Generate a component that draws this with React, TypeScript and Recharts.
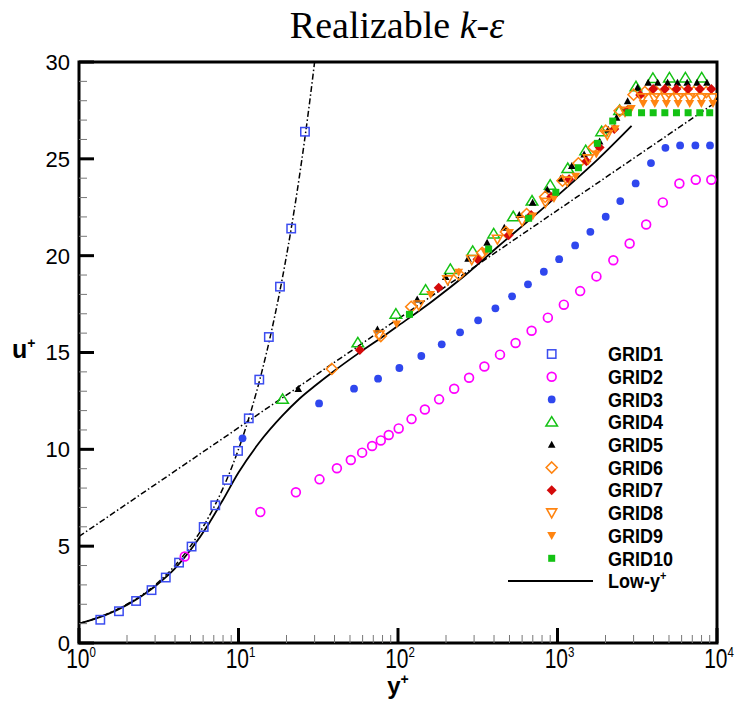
import React from 'react';
import { ComposedChart, XAxis, YAxis, Scatter, Line, ReferenceArea } from 'recharts';

// ---------- data ----------
const GRID1_X = [1.36, 1.78, 2.28, 2.85, 3.5, 4.24, 5.08, 6.05, 7.15, 8.49, 9.93, 11.6, 13.5, 15.5, 18.2, 21.4, 26.1];
const GRID1_U = [1.2, 1.64, 2.17, 2.73, 3.38, 4.15, 4.98, 5.99, 7.11, 8.42, 9.92, 11.6, 13.6, 15.8, 18.4, 21.4, 26.4];

const GRID2_X = [4.6, 13.7, 22.9, 32.2, 41.4, 50.6, 59.6, 68.8, 78, 87.5, 101, 121.6, 147.4, 181, 225, 279, 348, 436, 546, 688, 870, 1096, 1387, 1754, 2239, 2833, 3597, 4575, 5810, 7360, 9210];
const GRID2_U = [4.47, 6.76, 7.78, 8.45, 9.02, 9.45, 9.83, 10.17, 10.46, 10.74, 11.08, 11.56, 12.06, 12.58, 13.13, 13.7, 14.28, 14.89, 15.49, 16.12, 16.8, 17.47, 18.17, 18.93, 19.76, 20.63, 21.61, 22.75, 23.73, 23.92, 23.92];

const GRID3_X = [10.6, 32, 53, 75, 102, 140, 188, 245, 318, 408, 519, 653, 821, 1024, 1290, 1607, 2006, 2475, 3090, 3855, 4750, 5870, 7320, 9040];
const GRID3_U = [10.57, 12.37, 13.13, 13.65, 14.2, 14.82, 15.42, 16.04, 16.66, 17.28, 17.9, 18.52, 19.17, 19.82, 20.53, 21.23, 22.01, 22.82, 23.73, 24.78, 25.57, 25.69, 25.69, 25.69];

const GRID4_X = [18.9, 56, 97, 149, 213, 294, 398, 528, 692, 900, 1159, 1503, 1892, 2452, 3103, 3964, 5033, 6337, 8020];
const GRID4_U = [12.58, 15.5, 16.98, 18.22, 19.29, 20.22, 21.12, 22.01, 22.82, 23.64, 24.5, 25.42, 26.4, 27.5, 28.72, 29.15, 29.18, 29.18, 29.18];

const GRID5_X = [23.7, 74.3, 132, 199, 275, 362, 464, 576, 698, 863, 1048, 1230, 1469, 1837, 2080, 2346, 2752, 3176, 3700, 4250, 4900, 5650, 6500, 7500, 8650];
const GRID5_U = [13.11, 16.19, 17.74, 18.9, 19.84, 20.67, 21.44, 22.1, 22.73, 23.4, 23.97, 24.63, 25.23, 25.9, 26.5, 27.12, 27.97, 28.67, 28.93, 28.93, 28.93, 28.93, 28.93, 28.93, 28.93];

const GRID6_X = [38.5, 78, 121, 241, 337, 475, 640, 837, 1075, 1352, 1679, 2006, 2452, 3000, 3530, 4170, 4990, 5980, 7150, 8570];
const GRID6_U = [14.15, 15.85, 17.36, 19.03, 20.15, 21.22, 22.15, 23.04, 23.87, 24.77, 25.59, 26.45, 27.48, 28.31, 28.45, 28.45, 28.45, 28.45, 28.45, 28.45];

const GRID7_X = [57.6, 180, 315, 494, 684, 913, 1183, 1518, 1837, 2271, 2752, 3300, 3980, 4710, 5570, 6590, 7800, 9210];
const GRID7_U = [15.13, 18.34, 19.82, 21.06, 22.1, 23.04, 23.95, 24.88, 25.59, 26.54, 27.52, 28.3, 28.6, 28.6, 28.6, 28.6, 28.6, 28.6];

const GRID8_X = [76, 135, 205, 290, 420, 600, 840, 1150, 1560, 2050, 2650, 3400, 4050, 4800, 5700, 6750, 8000, 9400];
const GRID8_U = [15.9, 17.45, 18.75, 19.8, 20.85, 21.8, 22.75, 23.85, 25.0, 26.25, 27.45, 28.15, 28.15, 28.15, 28.15, 28.15, 28.15, 28.15];

const GRID9_X = [98, 160, 240, 350, 500, 700, 950, 1300, 1750, 2300, 2900, 3445, 4075, 4820, 5700, 6745, 7980, 9440];
const GRID9_U = [16.47, 18.0, 19.15, 20.2, 21.2, 22.05, 22.95, 24.1, 25.25, 26.55, 27.6, 27.86, 27.86, 27.86, 27.86, 27.86, 27.86, 27.86];

const GRID10_X = [118, 370, 659, 976, 1352, 1778, 2219, 2780, 3365, 3980, 4710, 5570, 6590, 7800, 9000];
const GRID10_U = [16.97, 20.34, 21.93, 23.27, 24.54, 25.8, 26.95, 27.38, 27.38, 27.38, 27.38, 27.38, 27.38, 27.38, 27.38];

const LOWY_X = [1, 1.5, 2, 3, 4, 5, 6.5, 8, 10, 13.5, 18.9, 24, 30.6, 38.8, 57, 84, 101, 164, 265, 428, 691, 1117, 1803, 2913];
const LOWY_U = [1.0, 1.48, 1.97, 2.93, 3.85, 4.8, 6.15, 7.4, 8.8, 10.35, 11.75, 12.6, 13.32, 13.98, 14.98, 15.93, 16.4, 17.65, 19.0, 20.5, 21.95, 23.45, 25.0, 26.7];

// viscous sublayer reference line u+ = y+
const VISC_X = [1, 1.5, 2, 3, 4, 5, 6, 7, 8, 9, 10, 12, 14, 16, 18, 20, 22, 24, 26, 28, 30];
const VISC_U = [1, 1.5, 2, 3, 4, 5, 6, 7, 8, 9, 10, 12, 14, 16, 18, 20, 22, 24, 26, 28, 30];

// log-law reference line
const LOG_X = [1, 10000];
const LOG_U = [5.5, 27.96];

const X_MAJOR = [1, 10, 100, 1000, 10000];
const X_EXP_LABELS = ['0', '1', '2', '3', '4'];
const X_MINOR_MULT = [2, 3, 4, 5, 6, 7, 8, 9];
const Y_MAJOR = [0, 5, 10, 15, 20, 25, 30];
const Y_ALL = [0, 1, 2, 3, 4, 5, 6, 7, 8, 9, 10, 11, 12, 13, 14, 15, 16, 17, 18, 19, 20, 21, 22, 23, 24, 25, 26, 27, 28, 29, 30];

const LEGEND_NAMES = ['GRID1', 'GRID2', 'GRID3', 'GRID4', 'GRID5', 'GRID6', 'GRID7', 'GRID8', 'GRID9', 'GRID10'];

// ---------- layout ----------
const W = 736;
const H = 701;
const PL = 79, PT = 62, PR = 717, PB = 643;
const SANS = 'Liberation Sans, Arial, sans-serif';
const SERIF = 'Liberation Serif, Times New Roman, serif';

const zip = (xs: number[], us: number[]) => xs.map((x, i) => ({ x, u: us[i] }));

const X_TICKS: number[] = [];
X_MAJOR.forEach((m, i) => {
  X_TICKS.push(m);
  if (i < X_MAJOR.length - 1) X_MINOR_MULT.forEach((k) => X_TICKS.push(m * k));
});

const BLUE_SQ = '#3b4cf0';
const MAGENTA = '#ff00ff';
const BLUE_DOT = '#2f47ee';
const GREEN = '#14c214';
const ORANGE = '#ff8410';
const RED = '#d40a0a';

type Kind = 'sq' | 'circ' | 'dot' | 'tri' | 'tris' | 'dia' | 'diaf' | 'itri' | 'itrif' | 'sqf';

function Marker({ kind, cx, cy, color }: { kind: Kind; cx: number; cy: number; color: string }) {
  if (cx == null || cy == null || isNaN(cx) || isNaN(cy)) return <g />;
  switch (kind) {
    case 'sq':
      return <rect x={cx - 4.2} y={cy - 4.2} width={8.4} height={8.4} fill="none" stroke={color} strokeWidth={1.5} />;
    case 'circ':
      return <circle cx={cx} cy={cy} r={4.4} fill="none" stroke={color} strokeWidth={1.7} />;
    case 'dot':
      return <circle cx={cx} cy={cy} r={3.9} fill={color} stroke="none" />;
    case 'tri':
      return <polygon points={`${cx},${cy - 5.5} ${cx - 5.8},${cy + 4} ${cx + 5.8},${cy + 4}`} fill="none" stroke={color} strokeWidth={1.5} />;
    case 'tris':
      return <polygon points={`${cx},${cy - 4} ${cx - 3.8},${cy + 3} ${cx + 3.8},${cy + 3}`} fill={color} stroke="none" />;
    case 'dia':
      return <polygon points={`${cx},${cy - 5.5} ${cx + 5.5},${cy} ${cx},${cy + 5.5} ${cx - 5.5},${cy}`} fill="none" stroke={color} strokeWidth={1.6} />;
    case 'diaf':
      return <polygon points={`${cx},${cy - 5} ${cx + 5},${cy} ${cx},${cy + 5} ${cx - 5},${cy}`} fill={color} stroke="none" />;
    case 'itri':
      return <polygon points={`${cx - 5},${cy - 4} ${cx + 5},${cy - 4} ${cx},${cy + 5}`} fill="none" stroke={color} strokeWidth={1.6} />;
    case 'itrif':
      return <polygon points={`${cx - 4.5},${cy - 3.5} ${cx + 4.5},${cy - 3.5} ${cx},${cy + 4.5}`} fill={color} stroke="none" />;
    case 'sqf':
      return <rect x={cx - 3.5} y={cy - 3.5} width={7} height={7} fill={color} stroke="none" />;
  }
  return <g />;
}

const SERIES: { name: string; xs: number[]; us: number[]; kind: Kind; color: string }[] = [
  { name: LEGEND_NAMES[0], xs: GRID1_X, us: GRID1_U, kind: 'sq', color: BLUE_SQ },
  { name: LEGEND_NAMES[1], xs: GRID2_X, us: GRID2_U, kind: 'circ', color: MAGENTA },
  { name: LEGEND_NAMES[2], xs: GRID3_X, us: GRID3_U, kind: 'dot', color: BLUE_DOT },
  { name: LEGEND_NAMES[3], xs: GRID4_X, us: GRID4_U, kind: 'tri', color: GREEN },
  { name: LEGEND_NAMES[4], xs: GRID5_X, us: GRID5_U, kind: 'tris', color: '#000000' },
  { name: LEGEND_NAMES[5], xs: GRID6_X, us: GRID6_U, kind: 'dia', color: ORANGE },
  { name: LEGEND_NAMES[6], xs: GRID7_X, us: GRID7_U, kind: 'diaf', color: RED },
  { name: LEGEND_NAMES[7], xs: GRID8_X, us: GRID8_U, kind: 'itri', color: ORANGE },
  { name: LEGEND_NAMES[8], xs: GRID9_X, us: GRID9_U, kind: 'itrif', color: ORANGE },
  { name: LEGEND_NAMES[9], xs: GRID10_X, us: GRID10_U, kind: 'sqf', color: GREEN },
];

function XTick(props: any) {
  const { x, payload } = props;
  const v = payload.value;
  const px = payload.coordinate != null ? payload.coordinate : x;
  const idx = X_MAJOR.indexOf(v);
  const major = idx >= 0;
  return (
    <g>
      <line x1={px} x2={px} y1={PB} y2={PB - (major ? 15 : 8)} stroke={major ? '#000' : '#777'} strokeWidth={major ? 3 : 1} />
      {major && (
        <text transform={`translate(${px + 2}, 668) scale(1, 1.3)`} x={0} y={0} textAnchor="middle" fontFamily={SANS} fontSize={21} fill="#000">
          <tspan>10</tspan>
          <tspan dy={-8.3} fontSize={11.5}>{X_EXP_LABELS[idx]}</tspan>
        </text>
      )}
    </g>
  );
}

function YTick(props: any) {
  const { y, payload } = props;
  const v = payload.value;
  const py = payload.coordinate != null ? payload.coordinate : y;
  const major = Y_MAJOR.indexOf(v) >= 0;
  return (
    <g>
      <line x1={PL} x2={PL + (major ? 15 : 8)} y1={py} y2={py} stroke={major ? '#000' : '#777'} strokeWidth={major ? 3 : 1} />
      {major && (
        <text x={70} y={py} dy="0.36em" textAnchor="end" fontFamily={SANS} fontSize={22} fill="#000">
          {String(v)}
        </text>
      )}
    </g>
  );
}

const DASHDOT = '6 2.5 1.5 2.5';

export default function App() {
  const legendTop = 354;
  const legendStep = 22.7;
  return (
    <div style={{ position: 'absolute', left: 0, top: 0, width: W, height: H, background: '#fff' }}>
      <ComposedChart width={W} height={H} margin={{ top: PT, right: W - PR, bottom: H - PB - 1, left: PL - 1 }}>
        <XAxis
          type="number"
          dataKey="x"
          scale="log"
          domain={[1, 10000]}
          allowDataOverflow
          ticks={X_TICKS}
          interval={0}
          height={1}
          axisLine={false}
          tickLine={false}
          tick={<XTick />}
        />
        <YAxis
          type="number"
          dataKey="u"
          domain={[0, 30]}
          allowDataOverflow
          ticks={Y_ALL}
          interval={0}
          width={1}
          axisLine={false}
          tickLine={false}
          tick={<YTick />}
        />
        <Line data={zip(VISC_X, VISC_U)} dataKey="u" type="monotone" stroke="#000" strokeWidth={1.5} strokeDasharray={DASHDOT} dot={false} activeDot={false} isAnimationActive={false} />
        <Line data={zip(LOG_X, LOG_U)} dataKey="u" type="linear" stroke="#000" strokeWidth={1.5} strokeDasharray={DASHDOT} dot={false} activeDot={false} isAnimationActive={false} />
        <Line data={zip(LOWY_X, LOWY_U)} dataKey="u" type="monotone" stroke="#000" strokeWidth={1.8} dot={false} activeDot={false} isAnimationActive={false} />
        {SERIES.map((s) => (
          <Scatter
            key={s.name}
            name={s.name}
            data={zip(s.xs, s.us)}
            dataKey="u"
            isAnimationActive={false}
            shape={(p: any) => <Marker kind={s.kind} cx={p.cx} cy={p.cy} color={s.color} />}
          />
        ))}
        <ReferenceArea x1={1} x2={10000} y1={0} y2={30} fill="none" fillOpacity={0} stroke="#000" strokeWidth={3} ifOverflow="visible" />
      </ComposedChart>
      <svg width={W} height={H} style={{ position: 'absolute', left: 0, top: 0, pointerEvents: 'none' }}>
        <text x={397} y={38} textAnchor="middle" fontFamily={SERIF} fontSize={38} fill="#000">
          Realizable <tspan fontStyle="italic">k</tspan>-<tspan fontStyle="italic">ε</tspan>
        </text>
        <text x={398} y={694} textAnchor="middle" fontFamily={SANS} fontWeight="bold" fontSize={24} fill="#000">
          y<tspan dy={-10} fontSize={14}>+</tspan>
        </text>
        <text x={12} y={358} fontFamily={SANS} fontWeight="bold" fontSize={25} fill="#000">
          u<tspan dy={-10} fontSize={14}>+</tspan>
        </text>
        {SERIES.map((s, i) => (
          <g key={s.name}>
            <Marker kind={s.kind} cx={551.7} cy={legendTop + i * legendStep} color={s.color} />
            <text transform={`translate(608, ${legendTop + i * legendStep}) scale(1, 1.12)`} x={0} y={0} dy="0.36em" fontFamily={SANS} fontWeight="bold" fontSize={18} fill="#000">
              {s.name}
            </text>
          </g>
        ))}
        <line x1={508} x2={593} y1={legendTop + 10 * legendStep} y2={legendTop + 10 * legendStep} stroke="#000" strokeWidth={1.8} />
        <text transform={`translate(608, ${legendTop + 10 * legendStep}) scale(1, 1.12)`} x={0} y={0} dy="0.36em" fontFamily={SANS} fontWeight="bold" fontSize={18} fill="#000">
          Low-y<tspan dy={-7} fontSize={11}>+</tspan>
        </text>
      </svg>
    </div>
  );
}
